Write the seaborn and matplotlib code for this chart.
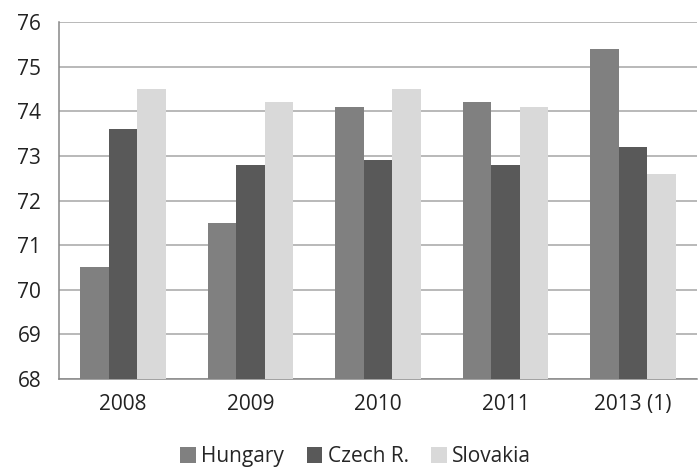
import numpy as np
import pandas as pd
import seaborn as sns
import matplotlib.pyplot as plt

# データ
years = ["2008", "2009", "2010", "2011", "2013 (1)"]
hungary = [70.5, 71.5, 74.1, 74.2, 75.4]
czech = [73.6, 72.8, 72.9, 72.8, 73.2]
slovakia = [74.5, 74.2, 74.5, 74.1, 72.6]
countries = ["Hungary", "Czech R.", "Slovakia"]
colors = ["#808080", "#595959", "#d9d9d9"]

df = pd.DataFrame({"year": years, "Hungary": hungary, "Czech R.": czech, "Slovakia": slovakia})
long_df = df.melt(id_vars="year", var_name="country", value_name="value")

sns.set_style("white")
plt.rcParams["font.family"] = ["Open Sans", "DejaVu Sans"]

fig = plt.figure(figsize=(6.98, 4.68), dpi=100)
ax = fig.add_axes([0.085, 0.19, 0.913, 0.763])

sns.barplot(
    data=long_df,
    x="year",
    y="value",
    hue="country",
    hue_order=countries,
    palette=colors,
    width=0.67,
    gap=0,
    saturation=1,
    linewidth=0,
    ax=ax,
    zorder=3,
)

ax.set_ylim(68, 76)
ax.set_yticks(range(68, 77))
ax.grid(axis="y", color="#a6a6a6", linewidth=1.1, zorder=0)
ax.set_axisbelow(True)
ax.set_xlim(-0.5, 4.5)

# 区切りの目盛り（下向き）とラベル（中央）
ax.set_xticks(np.arange(-0.5, 5, 1))
ax.set_xticklabels([])
ax.set_xticks(range(5), minor=True)
ax.set_xticklabels(years, minor=True)
ax.tick_params(axis="x", which="major", length=7, width=1, color="#888888", direction="out")
ax.tick_params(axis="x", which="minor", length=0, pad=11, labelsize=15, labelcolor="#222222")
ax.tick_params(axis="y", length=8, width=1, color="#a6a6a6", direction="out", pad=5,
               labelsize=15, labelcolor="#222222")
ax.set_xlabel("")
ax.set_ylabel("")

for s in ["top", "right"]:
    ax.spines[s].set_visible(False)
for s in ["left", "bottom"]:
    ax.spines[s].set_color("#888888")
    ax.spines[s].set_linewidth(1.1)

ax.legend(
    loc="upper center",
    bbox_to_anchor=(0.465, -0.165),
    ncol=3,
    frameon=False,
    fontsize=15,
    handlelength=0.75,
    handleheight=0.75,
    handletextpad=0.25,
    columnspacing=1.1,
    borderaxespad=0,
)

plt.savefig("out.png", dpi=100)
plt.close()
